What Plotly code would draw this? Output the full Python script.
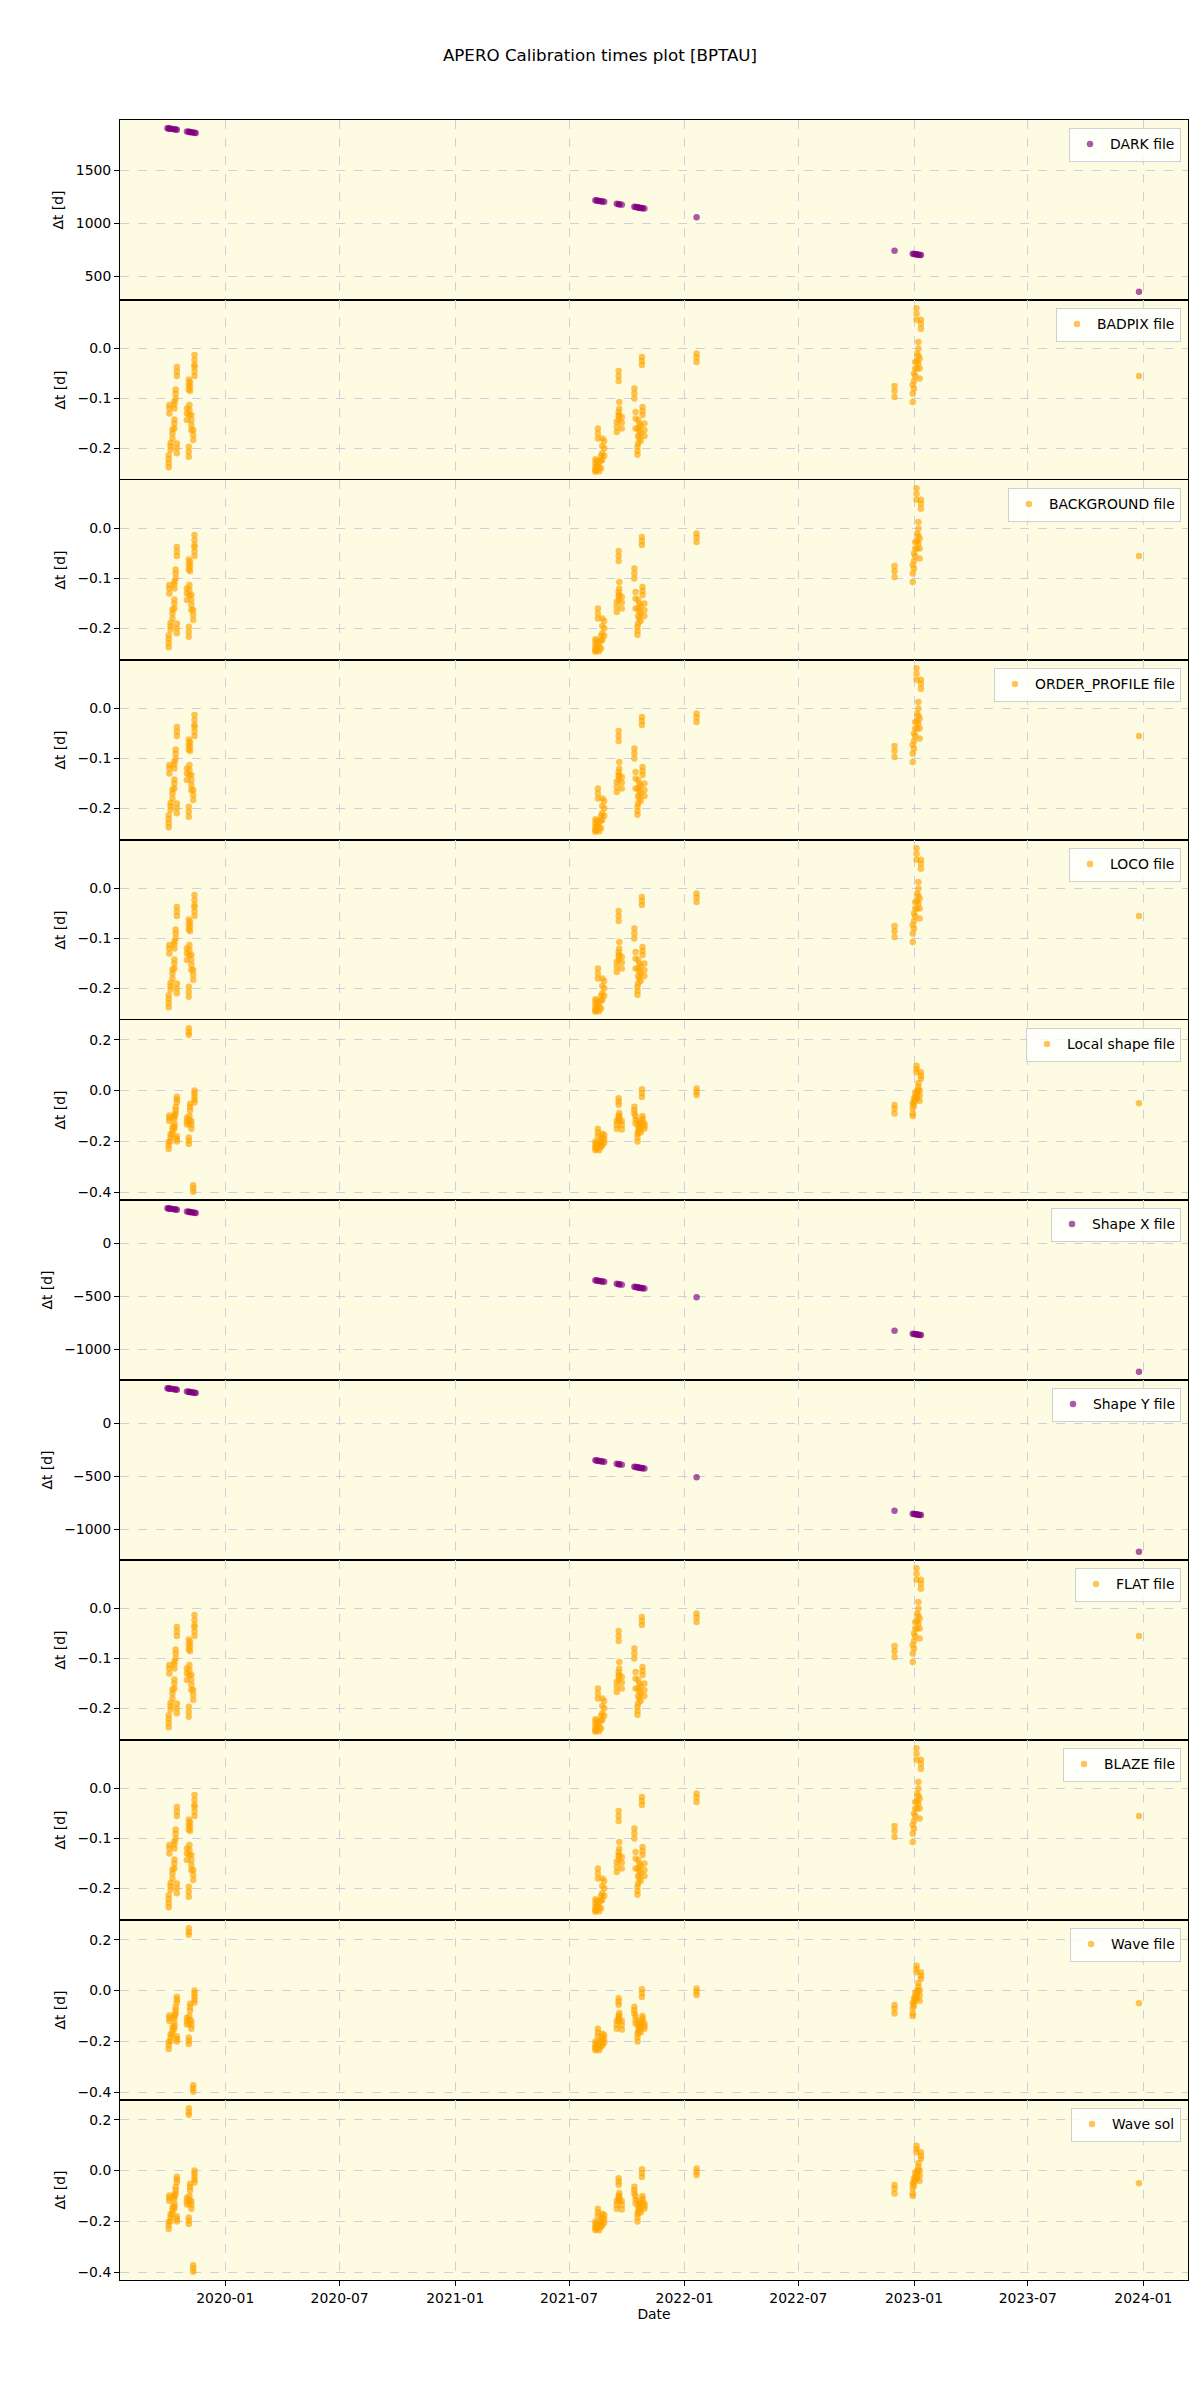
import plotly.graph_objects as go
from plotly.subplots import make_subplots

# ---------------- data ----------------
# Group A: BADPIX / BACKGROUND / ORDER_PROFILE / LOCO / FLAT / BLAZE  (Δt in days)
dates_a = [
    "2019-10-03", "2019-10-04", "2019-10-06", "2019-10-09", "2019-10-12", "2019-10-12",
    "2019-10-14", "2019-10-16", "2019-10-16", "2019-11-01", "2019-11-04", "2019-11-04",
    "2019-11-05", "2019-11-06", "2019-11-08", "2019-11-11", "2019-11-13", "2019-11-13",
    "2021-08-12", "2021-08-14", "2021-08-16", "2021-08-18", "2021-08-21", "2021-08-23",
    "2021-08-26", "2021-09-15", "2021-09-18", "2021-09-18", "2021-09-19", "2021-09-23",
    "2021-10-13", "2021-10-15", "2021-10-18", "2021-10-19", "2021-10-21", "2021-10-23",
    "2021-10-25", "2021-10-26", "2021-10-29",
    "2022-01-20",
    "2022-12-01", "2022-12-30", "2023-01-01", "2023-01-03", "2023-01-05", "2023-01-06",
    "2023-01-08", "2023-01-10", "2023-01-12",
    "2023-12-25",
]
vals_a = [
    [-0.214, -0.222, -0.230, -0.238], [-0.113, -0.120, -0.130], [-0.189, -0.196, -0.203],
    [-0.162, -0.170, -0.180], [-0.142, -0.150, -0.160], [-0.106, -0.112, -0.120],
    [-0.082, -0.090, -0.100], [-0.037, -0.046, -0.055], [-0.190, -0.200, -0.210],
    [-0.120, -0.130, -0.143], [-0.062, -0.072, -0.082], [-0.197, -0.207, -0.217],
    [-0.113, -0.123, -0.133], [-0.067, -0.076, -0.085], [-0.133, -0.143, -0.153, -0.163],
    [-0.163, -0.173, -0.183], [-0.013, -0.023, -0.033], [-0.037, -0.046, -0.055],
    [-0.222, -0.230, -0.238, -0.244, -0.247], [-0.225, -0.235, -0.243], [-0.160, -0.170, -0.180],
    [-0.228, -0.238, -0.246], [-0.215, -0.225, -0.240], [-0.180, -0.195, -0.210, -0.223],
    [-0.185, -0.200, -0.215], [-0.147, -0.157, -0.167], [-0.045, -0.055, -0.065],
    [-0.127, -0.135, -0.143], [-0.107, -0.120, -0.133], [-0.137, -0.148, -0.160],
    [-0.080, -0.090, -0.100], [-0.127, -0.140, -0.160], [-0.197, -0.205, -0.213],
    [-0.143, -0.160, -0.175, -0.190], [-0.150, -0.165, -0.180], [-0.155, -0.170, -0.185],
    [-0.017, -0.025, -0.033], [-0.117, -0.125, -0.133], [-0.150, -0.163, -0.175],
    [-0.010, -0.018, -0.027],
    [-0.075, -0.085, -0.097], [-0.073, -0.090, -0.107], [-0.050, -0.065, -0.080],
    [-0.027, -0.040, -0.055], [0.058, 0.070, 0.081], [-0.010, -0.025, -0.040],
    [0.013, 0.000, -0.015, -0.030], [-0.020, -0.040, -0.060], [0.040, 0.050, 0.058],
    [-0.055],
]

# Group B: Local shape / Wave file / Wave sol
dates_b = [
    "2019-10-03", "2019-10-04", "2019-10-06", "2019-10-09", "2019-10-12", "2019-10-12",
    "2019-10-14", "2019-10-16", "2019-10-16", "2019-11-01", "2019-11-04", "2019-11-04",
    "2019-11-05", "2019-11-06", "2019-11-08", "2019-11-11", "2019-11-13",
    "2021-08-12", "2021-08-14", "2021-08-16", "2021-08-18", "2021-08-21", "2021-08-23",
    "2021-08-26", "2021-09-15", "2021-09-18", "2021-09-18", "2021-09-19", "2021-09-23",
    "2021-10-13", "2021-10-15", "2021-10-18", "2021-10-19", "2021-10-21", "2021-10-23",
    "2021-10-25", "2021-10-26", "2021-10-29",
    "2022-01-20",
    "2022-12-01", "2022-12-30", "2023-01-01", "2023-01-03", "2023-01-05", "2023-01-06",
    "2023-01-08", "2023-01-10", "2023-01-12",
    "2023-12-25",
]
vals_b = [
    [-0.202, -0.215, -0.230], [-0.098, -0.108, -0.120], [-0.172, -0.185, -0.198],
    [-0.145, -0.158, -0.172], [-0.130, -0.140, -0.150], [-0.095, -0.102, -0.110],
    [-0.065, -0.077, -0.090], [-0.024, -0.035, -0.047], [-0.180, -0.190, -0.200],
    [-0.107, -0.120, -0.133], [0.219, 0.230, 0.245], [-0.185, -0.197, -0.210],
    [-0.100, -0.115, -0.130], [-0.052, -0.065, -0.078], [-0.120, -0.135, -0.150],
    [-0.372, -0.385, -0.398], [0.000, -0.012, -0.024, -0.036, -0.047],
    [-0.200, -0.215, -0.225, -0.235], [-0.205, -0.220, -0.230], [-0.150, -0.165, -0.180],
    [-0.210, -0.225, -0.235], [-0.190, -0.205, -0.220], [-0.170, -0.185, -0.200, -0.215],
    [-0.175, -0.190, -0.205], [-0.120, -0.135, -0.150], [-0.030, -0.043, -0.056],
    [-0.100, -0.110, -0.120], [-0.088, -0.100, -0.115], [-0.120, -0.135, -0.153],
    [-0.064, -0.077, -0.090], [-0.100, -0.115, -0.130], [-0.170, -0.185, -0.200],
    [-0.120, -0.140, -0.160], [-0.130, -0.145, -0.160], [-0.130, -0.145, -0.165],
    [0.005, -0.010, -0.025], [-0.100, -0.110, -0.120], [-0.130, -0.140, -0.150],
    [0.008, -0.005, -0.018],
    [-0.057, -0.072, -0.090], [-0.050, -0.070, -0.090, -0.100], [-0.030, -0.045, -0.060],
    [-0.010, -0.025, -0.040], [0.072, 0.085, 0.097], [0.000, -0.015, -0.030],
    [0.030, 0.015, 0.000], [0.000, -0.020, -0.040], [0.046, 0.058, 0.072],
    [-0.050],
]

# Purple panels: DARK, Shape X, Shape Y (one value per night)
dates_p = [
    "2019-10-01", "2019-10-03", "2019-10-04", "2019-10-06", "2019-10-09", "2019-10-12",
    "2019-10-14", "2019-10-16", "2019-11-01", "2019-11-04", "2019-11-05", "2019-11-06",
    "2019-11-08", "2019-11-11", "2019-11-13", "2019-11-15",
    "2021-08-12", "2021-08-14", "2021-08-16", "2021-08-18", "2021-08-21", "2021-08-23",
    "2021-08-26", "2021-09-15", "2021-09-18", "2021-09-19", "2021-09-23", "2021-10-13",
    "2021-10-15", "2021-10-18", "2021-10-19", "2021-10-21", "2021-10-23", "2021-10-25",
    "2021-10-26", "2021-10-29",
    "2022-01-20",
    "2022-12-01", "2022-12-30", "2023-01-01", "2023-01-03", "2023-01-05", "2023-01-06",
    "2023-01-08", "2023-01-10", "2023-01-12",
    "2023-12-25",
]
dark_vals = [
    1897, 1895, 1894, 1892, 1889, 1886, 1884, 1882, 1866, 1863, 1862, 1861, 1859, 1856, 1854, 1852,
    1216, 1214, 1212, 1210, 1207, 1205, 1202, 1182, 1179, 1178, 1174, 1154, 1152, 1149, 1148, 1146,
    1144, 1142, 1141, 1138,
    1055,
    740, 711, 709, 707, 705, 704, 702, 700, 698,
    351,
]
shapex_vals = [
    332, 330, 329, 327, 324, 321, 319, 317, 301, 298, 297, 296, 294, 291, 289, 287,
    -349, -351, -353, -355, -358, -360, -363, -383, -386, -387, -391, -411, -413, -416, -417, -419,
    -421, -423, -424, -427,
    -510,
    -825, -854, -856, -858, -860, -861, -863, -865, -867,
    -1214,
]
shapey_vals = list(shapex_vals)

panel_names = ["DARK file", "BADPIX file", "BACKGROUND file", "ORDER_PROFILE file", "LOCO file",
               "Local shape file", "Shape X file", "Shape Y file", "FLAT file", "BLAZE file",
               "Wave file", "Wave sol"]
panel_groups = ["dark", "A", "A", "A", "A", "B", "shapex", "shapey", "A", "A", "B", "B"]
panel_dtick = [500, 0.1, 0.1, 0.1, 0.1, 0.2, 500, 500, 0.1, 0.1, 0.2, 0.2]

PURPLE = "#800080"
ORANGE = "#FFA500"


def flatten(dates, vals):
    xs, ys = [], []
    for d, vs in zip(dates, vals):
        for v in vs:
            xs.append(d)
            ys.append(v)
    return xs, ys


series = {
    "A": flatten(dates_a, vals_a) + (ORANGE,),
    "B": flatten(dates_b, vals_b) + (ORANGE,),
    "dark": (dates_p, dark_vals, PURPLE),
    "shapex": (dates_p, shapex_vals, PURPLE),
    "shapey": (dates_p, shapey_vals, PURPLE),
}

N = len(panel_names)
fig = make_subplots(rows=N, cols=1, shared_xaxes=True, vertical_spacing=0)

W, H = 1200, 2400
ML, MR, MT, MB = 120, 12, 120, 120
plot_h = H - MT - MB
plot_w = W - ML - MR

FONT = "DejaVu Sans"
grid_color = "#cfd0dc"
bg = "#FDFCE3"

for i, (name, grp, dt) in enumerate(zip(panel_names, panel_groups, panel_dtick)):
    xs, ys, col = series[grp]
    row = i + 1
    leg = "legend" if i == 0 else f"legend{i + 1}"
    fig.add_trace(
        go.Scatter(
            x=xs, y=ys, mode="markers", name=name,
            marker=dict(color=col, size=6.5, opacity=0.65, line=dict(width=0)),
            legend=leg, showlegend=True,
        ),
        row=row, col=1,
    )
    lo, hi = min(ys), max(ys)
    pad = 0.05 * (hi - lo)
    fig.update_yaxes(
        row=row, col=1,
        range=[lo - pad, hi + pad],
        dtick=dt,
        tickformat=".1f" if dt < 1 else "d",
        showline=True, linecolor="black", linewidth=1, mirror=True,
        ticks="outside", ticklen=5, tickcolor="black",
        showgrid=True, gridcolor=grid_color, griddash="dash", gridwidth=1,
        zeroline=False,
        tickfont=dict(family=FONT, size=13.9, color="black"),
        title=dict(text="Δt [d]", font=dict(family=FONT, size=13.9, color="black"), standoff=8),
    )
    fig.update_xaxes(
        row=row, col=1,
        type="date",
        range=["2019-07-17 12:00", "2024-03-12"],
        tick0="2020-01-01", dtick="M6", tickformat="%Y-%m",
        showline=True, linecolor="black", linewidth=1, mirror=True,
        showgrid=True, gridcolor=grid_color, griddash="dash", gridwidth=1,
        zeroline=False,
        ticks="outside" if row == N else "", ticklen=5, tickcolor="black",
        tickfont=dict(family=FONT, size=13.9, color="black"),
    )
    top = 1 - i / N
    fig.update_layout({
        leg: dict(
            x=(1181 - ML) / plot_w, xanchor="right",
            y=top - 7.5 / plot_h, yanchor="top",
            bgcolor="rgba(255,255,255,0.8)", bordercolor="#d0d0d0", borderwidth=1,
            font=dict(family=FONT, size=13.9, color="black"),
            itemsizing="trace",
        )
    })

fig.update_xaxes(row=N, col=1, title=dict(text="Date", font=dict(family=FONT, size=13.9, color="black"), standoff=4))

fig.update_layout(
    width=W, height=H,
    margin=dict(l=ML, r=MR, t=MT, b=MB),
    paper_bgcolor="white",
    plot_bgcolor=bg,
    title=dict(text="APERO Calibration times plot [BPTAU]", x=0.5, xref="container", xanchor="center",
               y=1 - 55 / H, yref="container", yanchor="middle",
               font=dict(family=FONT, size=16.7, color="black")),
)

fig.write_html("out.html", config={"displayModeBar": False},
               post_script="document.body.style.margin='0';")
